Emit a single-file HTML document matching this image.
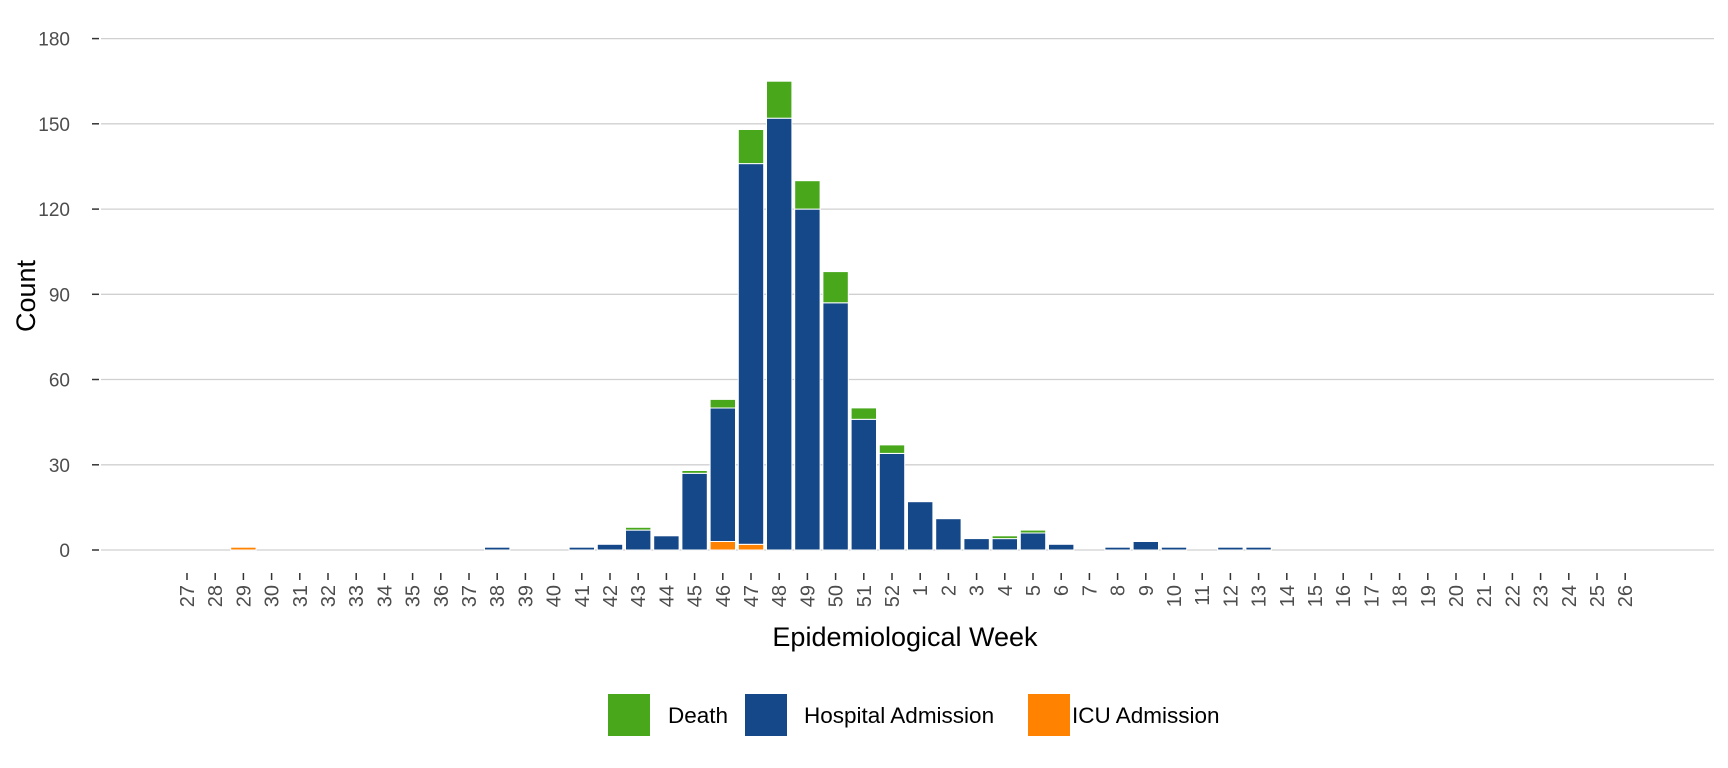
<!DOCTYPE html>
<html><head><meta charset="utf-8"><style>
html,body{margin:0;padding:0;background:#fff;}
svg{display:block;font-family:"Liberation Sans",Arial,sans-serif;}
</style></head><body>
<svg width="1728" height="768" viewBox="0 0 1728 768" xmlns="http://www.w3.org/2000/svg">
<g stroke="#d0d0d0" stroke-width="1.3">
<line x1="101" x2="1714" y1="38.6" y2="38.6"/>
<line x1="101" x2="1714" y1="123.8" y2="123.8"/>
<line x1="101" x2="1714" y1="209.1" y2="209.1"/>
<line x1="101" x2="1714" y1="294.3" y2="294.3"/>
<line x1="101" x2="1714" y1="379.5" y2="379.5"/>
<line x1="101" x2="1714" y1="464.8" y2="464.8"/>
<line x1="101" x2="1714" y1="550" y2="550"/>
</g>
<g stroke="#333" stroke-width="1.5">
<line x1="92" x2="99" y1="38.6" y2="38.6"/>
<line x1="92" x2="99" y1="123.8" y2="123.8"/>
<line x1="92" x2="99" y1="209.1" y2="209.1"/>
<line x1="92" x2="99" y1="294.3" y2="294.3"/>
<line x1="92" x2="99" y1="379.5" y2="379.5"/>
<line x1="92" x2="99" y1="464.8" y2="464.8"/>
<line x1="92" x2="99" y1="550" y2="550"/>
</g>
<g font-size="19" fill="#4d4d4d" text-anchor="end">
<text x="70" y="45.6">180</text>
<text x="70" y="130.8">150</text>
<text x="70" y="216.1">120</text>
<text x="70" y="301.3">90</text>
<text x="70" y="386.5">60</text>
<text x="70" y="471.8">30</text>
<text x="70" y="557">0</text>
</g>
<text transform="translate(35,296) rotate(-90)" font-size="27" text-anchor="middle" fill="#000">Count</text>

<g stroke="#fff" stroke-width="1">
<rect x="230.7" y="547.2" width="25.4" height="2.8" fill="#ff8200"/>
<rect x="484.5" y="547.2" width="25.4" height="2.8" fill="#154889"/>
<rect x="569.1" y="547.2" width="25.4" height="2.8" fill="#154889"/>
<rect x="597.3" y="544.3" width="25.4" height="5.7" fill="#154889"/>
<rect x="625.5" y="530.1" width="25.4" height="19.9" fill="#154889"/>
<rect x="625.5" y="527.3" width="25.4" height="2.8" fill="#48a71b"/>
<rect x="653.7" y="535.8" width="25.4" height="14.2" fill="#154889"/>
<rect x="681.9" y="473.3" width="25.4" height="76.7" fill="#154889"/>
<rect x="681.9" y="470.5" width="25.4" height="2.8" fill="#48a71b"/>
<rect x="710.1" y="541.5" width="25.4" height="8.5" fill="#ff8200"/>
<rect x="710.1" y="408" width="25.4" height="133.5" fill="#154889"/>
<rect x="710.1" y="399.4" width="25.4" height="8.6" fill="#48a71b"/>
<rect x="738.3" y="544.3" width="25.4" height="5.7" fill="#ff8200"/>
<rect x="738.3" y="163.6" width="25.4" height="380.7" fill="#154889"/>
<rect x="738.3" y="129.5" width="25.4" height="34.1" fill="#48a71b"/>
<rect x="766.5" y="118.2" width="25.4" height="431.8" fill="#154889"/>
<rect x="766.5" y="81.2" width="25.4" height="37" fill="#48a71b"/>
<rect x="794.7" y="209.1" width="25.4" height="340.9" fill="#154889"/>
<rect x="794.7" y="180.7" width="25.4" height="28.4" fill="#48a71b"/>
<rect x="822.9" y="302.8" width="25.4" height="247.2" fill="#154889"/>
<rect x="822.9" y="271.6" width="25.4" height="31.2" fill="#48a71b"/>
<rect x="851.1" y="419.3" width="25.4" height="130.7" fill="#154889"/>
<rect x="851.1" y="407.9" width="25.4" height="11.4" fill="#48a71b"/>
<rect x="879.3" y="453.4" width="25.4" height="96.6" fill="#154889"/>
<rect x="879.3" y="444.9" width="25.4" height="8.5" fill="#48a71b"/>
<rect x="907.5" y="501.7" width="25.4" height="48.3" fill="#154889"/>
<rect x="935.7" y="518.7" width="25.4" height="31.3" fill="#154889"/>
<rect x="963.9" y="538.6" width="25.4" height="11.4" fill="#154889"/>
<rect x="992.1" y="538.6" width="25.4" height="11.4" fill="#154889"/>
<rect x="992.1" y="535.8" width="25.4" height="2.8" fill="#48a71b"/>
<rect x="1020.3" y="533" width="25.4" height="17" fill="#154889"/>
<rect x="1020.3" y="530.1" width="25.4" height="2.9" fill="#48a71b"/>
<rect x="1048.5" y="544.3" width="25.4" height="5.7" fill="#154889"/>
<rect x="1104.9" y="547.2" width="25.4" height="2.8" fill="#154889"/>
<rect x="1133.1" y="541.5" width="25.4" height="8.5" fill="#154889"/>
<rect x="1161.3" y="547.2" width="25.4" height="2.8" fill="#154889"/>
<rect x="1217.7" y="547.2" width="25.4" height="2.8" fill="#154889"/>
<rect x="1245.9" y="547.2" width="25.4" height="2.8" fill="#154889"/>
</g>

<g stroke="#333" stroke-width="1.5">
<line x1="187" x2="187" y1="573" y2="580"/><line x1="215.2" x2="215.2" y1="573" y2="580"/><line x1="243.4" x2="243.4" y1="573" y2="580"/><line x1="271.6" x2="271.6" y1="573" y2="580"/><line x1="299.8" x2="299.8" y1="573" y2="580"/><line x1="328" x2="328" y1="573" y2="580"/><line x1="356.2" x2="356.2" y1="573" y2="580"/><line x1="384.4" x2="384.4" y1="573" y2="580"/><line x1="412.6" x2="412.6" y1="573" y2="580"/><line x1="440.8" x2="440.8" y1="573" y2="580"/><line x1="469" x2="469" y1="573" y2="580"/><line x1="497.2" x2="497.2" y1="573" y2="580"/><line x1="525.4" x2="525.4" y1="573" y2="580"/><line x1="553.6" x2="553.6" y1="573" y2="580"/><line x1="581.8" x2="581.8" y1="573" y2="580"/><line x1="610" x2="610" y1="573" y2="580"/><line x1="638.2" x2="638.2" y1="573" y2="580"/><line x1="666.4" x2="666.4" y1="573" y2="580"/><line x1="694.6" x2="694.6" y1="573" y2="580"/><line x1="722.8" x2="722.8" y1="573" y2="580"/><line x1="751" x2="751" y1="573" y2="580"/><line x1="779.2" x2="779.2" y1="573" y2="580"/><line x1="807.4" x2="807.4" y1="573" y2="580"/><line x1="835.6" x2="835.6" y1="573" y2="580"/><line x1="863.8" x2="863.8" y1="573" y2="580"/><line x1="892" x2="892" y1="573" y2="580"/><line x1="920.2" x2="920.2" y1="573" y2="580"/><line x1="948.4" x2="948.4" y1="573" y2="580"/><line x1="976.6" x2="976.6" y1="573" y2="580"/><line x1="1004.8" x2="1004.8" y1="573" y2="580"/><line x1="1033" x2="1033" y1="573" y2="580"/><line x1="1061.2" x2="1061.2" y1="573" y2="580"/><line x1="1089.4" x2="1089.4" y1="573" y2="580"/><line x1="1117.6" x2="1117.6" y1="573" y2="580"/><line x1="1145.8" x2="1145.8" y1="573" y2="580"/><line x1="1174" x2="1174" y1="573" y2="580"/><line x1="1202.2" x2="1202.2" y1="573" y2="580"/><line x1="1230.4" x2="1230.4" y1="573" y2="580"/><line x1="1258.6" x2="1258.6" y1="573" y2="580"/><line x1="1286.8" x2="1286.8" y1="573" y2="580"/><line x1="1315" x2="1315" y1="573" y2="580"/><line x1="1343.2" x2="1343.2" y1="573" y2="580"/><line x1="1371.4" x2="1371.4" y1="573" y2="580"/><line x1="1399.6" x2="1399.6" y1="573" y2="580"/><line x1="1427.8" x2="1427.8" y1="573" y2="580"/><line x1="1456" x2="1456" y1="573" y2="580"/><line x1="1484.2" x2="1484.2" y1="573" y2="580"/><line x1="1512.4" x2="1512.4" y1="573" y2="580"/><line x1="1540.6" x2="1540.6" y1="573" y2="580"/><line x1="1568.8" x2="1568.8" y1="573" y2="580"/><line x1="1597" x2="1597" y1="573" y2="580"/><line x1="1625.2" x2="1625.2" y1="573" y2="580"/>
</g>
<g font-size="20" fill="#4d4d4d" text-anchor="end">
<text transform="translate(194,585) rotate(-90)">27</text>
<text transform="translate(222.2,585) rotate(-90)">28</text>
<text transform="translate(250.4,585) rotate(-90)">29</text>
<text transform="translate(278.6,585) rotate(-90)">30</text>
<text transform="translate(306.8,585) rotate(-90)">31</text>
<text transform="translate(335,585) rotate(-90)">32</text>
<text transform="translate(363.2,585) rotate(-90)">33</text>
<text transform="translate(391.4,585) rotate(-90)">34</text>
<text transform="translate(419.6,585) rotate(-90)">35</text>
<text transform="translate(447.8,585) rotate(-90)">36</text>
<text transform="translate(476,585) rotate(-90)">37</text>
<text transform="translate(504.2,585) rotate(-90)">38</text>
<text transform="translate(532.4,585) rotate(-90)">39</text>
<text transform="translate(560.6,585) rotate(-90)">40</text>
<text transform="translate(588.8,585) rotate(-90)">41</text>
<text transform="translate(617,585) rotate(-90)">42</text>
<text transform="translate(645.2,585) rotate(-90)">43</text>
<text transform="translate(673.4,585) rotate(-90)">44</text>
<text transform="translate(701.6,585) rotate(-90)">45</text>
<text transform="translate(729.8,585) rotate(-90)">46</text>
<text transform="translate(758,585) rotate(-90)">47</text>
<text transform="translate(786.2,585) rotate(-90)">48</text>
<text transform="translate(814.4,585) rotate(-90)">49</text>
<text transform="translate(842.6,585) rotate(-90)">50</text>
<text transform="translate(870.8,585) rotate(-90)">51</text>
<text transform="translate(899,585) rotate(-90)">52</text>
<text transform="translate(927.2,585) rotate(-90)">1</text>
<text transform="translate(955.4,585) rotate(-90)">2</text>
<text transform="translate(983.6,585) rotate(-90)">3</text>
<text transform="translate(1011.8,585) rotate(-90)">4</text>
<text transform="translate(1040,585) rotate(-90)">5</text>
<text transform="translate(1068.2,585) rotate(-90)">6</text>
<text transform="translate(1096.4,585) rotate(-90)">7</text>
<text transform="translate(1124.6,585) rotate(-90)">8</text>
<text transform="translate(1152.8,585) rotate(-90)">9</text>
<text transform="translate(1181,585) rotate(-90)">10</text>
<text transform="translate(1209.2,585) rotate(-90)">11</text>
<text transform="translate(1237.4,585) rotate(-90)">12</text>
<text transform="translate(1265.6,585) rotate(-90)">13</text>
<text transform="translate(1293.8,585) rotate(-90)">14</text>
<text transform="translate(1322,585) rotate(-90)">15</text>
<text transform="translate(1350.2,585) rotate(-90)">16</text>
<text transform="translate(1378.4,585) rotate(-90)">17</text>
<text transform="translate(1406.6,585) rotate(-90)">18</text>
<text transform="translate(1434.8,585) rotate(-90)">19</text>
<text transform="translate(1463,585) rotate(-90)">20</text>
<text transform="translate(1491.2,585) rotate(-90)">21</text>
<text transform="translate(1519.4,585) rotate(-90)">22</text>
<text transform="translate(1547.6,585) rotate(-90)">23</text>
<text transform="translate(1575.8,585) rotate(-90)">24</text>
<text transform="translate(1604,585) rotate(-90)">25</text>
<text transform="translate(1632.2,585) rotate(-90)">26</text>
</g>
<text x="905" y="646" font-size="27" text-anchor="middle" fill="#000">Epidemiological Week</text>

<rect x="608" y="694" width="42" height="42" fill="#48a71b"/>
<text x="668" y="723" font-size="22.5" fill="#000">Death</text>
<rect x="745" y="694" width="42" height="42" fill="#154889"/>
<text x="804" y="723" font-size="22.5" fill="#000">Hospital Admission</text>
<rect x="1028" y="694" width="42" height="42" fill="#ff8200"/>
<text x="1072" y="723" font-size="22.5" fill="#000">ICU Admission</text>
</svg>
</body></html>
